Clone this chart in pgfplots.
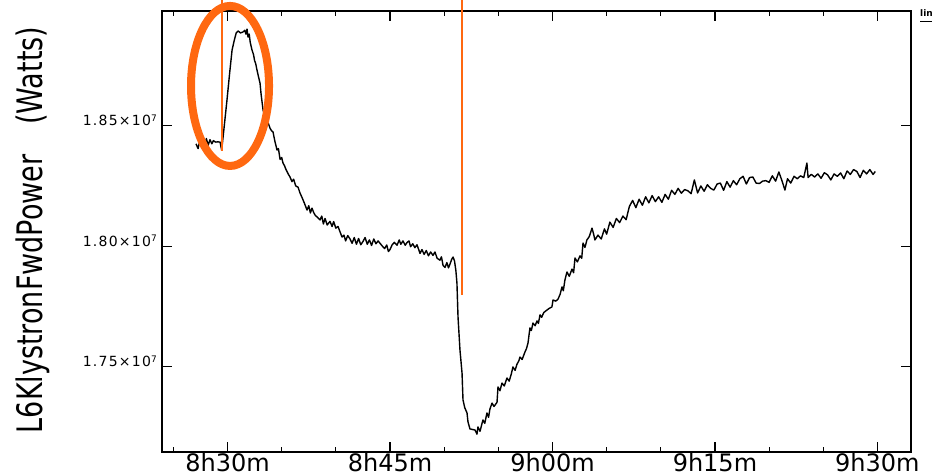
\documentclass[border=0pt]{standalone}
\usepackage{fontspec}
\setmainfont{DejaVu Sans}
\newfontfamily\ytickfont[LetterSpace=9]{DejaVu Sans}
\usepackage{graphicx}
\usepackage{pgfplots}
\pgfplotsset{compat=1.18}
\definecolor{hilite}{RGB}{255,104,16}

\begin{document}
\begin{tikzpicture}
\useasboundingbox (-162pt,-23pt) rectangle (770pt,452pt);

\begin{axis}[
    at={(0pt,0pt)}, anchor=south west,
    scale only axis, width=749pt, height=441pt,
    xmin=23.95, xmax=93.1,
    ymin=1.7146, ymax=1.8976,
    xtick={30,45,60,75,90},
    xticklabels={8h30m,8h45m,9h00m,9h15m,9h30m},
    minor xtick={25,35,40,50,55,65,70,80,85},
    ytick={1.75,1.80,1.85},
    yticklabels={
        {1.75×10\raisebox{4.5pt}{\fontsize{9}{9}\selectfont 7}},
        {1.80×10\raisebox{4.5pt}{\fontsize{9}{9}\selectfont 7}},
        {1.85×10\raisebox{4.5pt}{\fontsize{9}{9}\selectfont 7}}},
    tick align=inside,
    major tick length=10pt,
    minor tick length=5pt,
    tick style={black, line width=1.2pt},
    axis line style={line width=1.3pt},
    xticklabel style={font=\fontsize{24}{24}\selectfont, inner sep=0pt, anchor=north, yshift=-1.5pt},
    yticklabel style={font=\ytickfont\fontsize{14}{14}\selectfont, inner sep=0pt, anchor=base east, xshift=-5pt},
    clip=false,
]

% power trace
\addplot[black, line width=1.4pt, line join=round] coordinates {
(27.09,1.8425)(27.28,1.8405)(27.45,1.8440)(27.6,1.8412)(27.74,1.8453)(27.9,1.8420)(28.05,1.8447)(28.2,1.8418)(28.38,1.8442)(28.55,1.8425)(28.7,1.8438)(28.9,1.8432)(29.1,1.8433)(29.31,1.8432)(29.46,1.8398)
(29.7,1.8500)(29.95,1.8607)(30.2,1.8720)(30.42,1.8814)(30.6,1.8850)(30.8,1.8885)(30.97,1.8893)(31.2,1.8885)(31.43,1.8889)(31.6,1.8896)(31.7,1.8880)(31.8,1.8901)(31.89,1.8868)(32.0,1.8880)(32.1,1.8845)(32.26,1.8814)(32.4,1.8795)(32.5,1.8770)(32.6,1.8758)(32.72,1.8731)(32.85,1.8705)(33.0,1.8677)(33.1,1.8630)(33.28,1.8565)(33.45,1.8540)(33.6,1.8505)(33.75,1.8512)(33.92,1.8490)(34.05,1.8480)(34.2,1.8474)(34.35,1.8440)(34.57,1.8399)(34.7,1.8405)(34.85,1.8360)(35.0,1.8368)(35.12,1.8345)(35.25,1.8335)(35.4,1.8318)(35.6,1.8300)(35.77,1.8287)(35.95,1.8268)(36.1,1.8278)(36.3,1.8250)(36.51,1.8245)(36.69,1.8221)(36.9,1.8200)(37.1,1.8178)(37.34,1.8150)(37.5,1.8168)(37.65,1.8138)(37.8,1.8158)(37.95,1.8140)(38.1,1.8128)(38.3,1.8120)(38.54,1.8109)(38.7,1.8125)(38.85,1.8092)(39.0,1.8115)(39.2,1.8088)(39.46,1.8103)(39.65,1.8082)(39.8,1.8102)(40.0,1.8075)(40.2,1.8082)(40.4,1.8058)(40.57,1.8038)(40.75,1.8046)(40.9,1.8022)(41.1,1.8044)(41.31,1.8030)(41.5,1.8012)(41.7,1.8036)(41.9,1.8008)(42.1,1.8032)(42.3,1.8006)(42.51,1.8020)(42.7,1.8036)(42.9,1.8008)(43.1,1.8026)(43.3,1.8003)(43.5,1.8030)(43.7,1.8010)(43.9,1.8022)(44.08,1.8012)(44.3,1.8000)(44.5,1.7990)(44.7,1.8005)(44.85,1.7978)(45.0,1.7986)(45.2,1.8006)(45.4,1.8016)(45.65,1.8004)(45.85,1.8026)(46.0,1.8008)(46.2,1.8022)(46.4,1.8004)(46.57,1.8015)(46.75,1.8022)(46.9,1.7998)(47.1,1.8010)(47.3,1.7994)(47.49,1.8006)(47.65,1.7986)(47.77,1.7970)(47.95,1.7986)(48.15,1.7966)(48.35,1.7982)(48.55,1.7960)(48.75,1.7976)(48.97,1.7962)(49.15,1.7976)(49.35,1.7950)(49.61,1.7942)(49.75,1.7956)(49.9,1.7920)(50.08,1.7912)(50.25,1.7932)(50.4,1.7910)(50.54,1.7926)(50.7,1.7946)(50.82,1.7955)(50.95,1.7940)(51.08,1.7900)(51.18,1.7847)(51.28,1.7706)(51.46,1.7569)(51.65,1.7474)(51.74,1.7362)(51.9,1.7330)(52.11,1.7308)(52.2,1.7271)(52.38,1.7242)
(52.85,1.7237)(53.03,1.7220)(53.12,1.7250)(53.31,1.7232)(53.58,1.7279)(53.75,1.7265)(53.95,1.7308)(54.1,1.7290)(54.23,1.7325)(54.42,1.7349)(54.6,1.7335)(54.88,1.7352)(54.97,1.7416)(55.15,1.7400)(55.34,1.7432)(55.55,1.7420)(55.8,1.7453)(56.0,1.7440)(56.2,1.7470)(56.35,1.7499)(56.55,1.7485)(56.72,1.7510)(56.9,1.7525)(57.0,1.7540)(57.2,1.7530)(57.46,1.7561)(57.6,1.7575)(57.74,1.7598)(57.92,1.7661)(58.05,1.7650)(58.2,1.7681)(58.4,1.7670)(58.57,1.7690)(58.7,1.7680)(58.85,1.7715)(59.0,1.7705)(59.2,1.7725)(59.49,1.7735)(59.7,1.7742)(59.95,1.7748)(60.05,1.7777)(60.3,1.7772)(60.51,1.7780)(60.7,1.7800)(60.88,1.7831)(61.0,1.7815)(61.15,1.7860)(61.34,1.7893)(61.55,1.7875)(61.8,1.7905)(61.95,1.7890)(62.08,1.7951)(62.3,1.7935)(62.54,1.7960)(62.7,1.7950)(62.82,1.8013)(63.0,1.7995)(63.18,1.8026)(63.4,1.8040)(63.65,1.8075)(63.8,1.8050)(63.92,1.8026)
(64.2,1.8046)(64.5,1.8030)(64.8,1.8072)(65.0,1.8050)(65.3,1.8100)(65.6,1.8078)(65.9,1.8115)(66.2,1.8098)(66.5,1.8125)(66.8,1.8110)(67.1,1.8165)(67.4,1.8190)(67.7,1.8160)(68.0,1.8195)(68.3,1.8170)(68.6,1.8205)(68.9,1.8180)(69.2,1.8210)(69.5,1.8185)(69.8,1.8205)(70.1,1.8182)(70.4,1.8215)(70.7,1.8195)(71.0,1.8232)(71.3,1.8215)(71.6,1.8240)(71.9,1.8220)(72.2,1.8235)(72.5,1.8230)(72.8,1.8218)(73.1,1.8275)(73.4,1.8221)(73.7,1.8250)(74.0,1.8228)(74.3,1.8255)(74.6,1.8240)(74.9,1.8233)(75.2,1.8258)(75.5,1.8262)(75.8,1.8232)(76.1,1.8268)(76.4,1.8245)(76.7,1.8272)(77.0,1.8255)(77.3,1.8280)(77.6,1.8290)(77.9,1.8258)(78.2,1.8285)(78.5,1.8287)(78.8,1.8262)(79.1,1.8260)(79.4,1.8270)(79.7,1.8272)(80.0,1.8265)(80.3,1.8292)(80.6,1.8270)(80.9,1.8308)(81.2,1.8270)(81.46,1.8233)(81.7,1.8280)(82.0,1.8262)(82.3,1.8290)(82.6,1.8280)(82.9,1.8292)(83.2,1.8285)(83.49,1.8345)(83.6,1.8285)(83.9,1.8298)(84.2,1.8287)(84.5,1.8300)(84.8,1.8282)(85.1,1.8305)(85.4,1.8296)(85.7,1.8275)(86.0,1.8300)(86.3,1.8290)(86.6,1.8304)(86.9,1.8280)(87.2,1.8312)(87.5,1.8298)(87.8,1.8318)(88.1,1.8310)(88.4,1.8285)(88.7,1.8315)(89.0,1.8300)(89.3,1.8318)(89.6,1.8298)(89.8,1.8310)
};

% orange markup drawn on the scan
\draw[hilite, line width=2pt] (axis cs:29.46,1.8396) -- (axis cs:29.46,1.91);
\draw[hilite, line width=2.5pt] (axis cs:51.65,1.7797) -- (axis cs:51.65,1.91);
\draw[hilite, line width=8pt] (axis cs:30.23,1.8665) ellipse [x radius=39pt, y radius=80pt];
\end{axis}

\node[rotate=90] at (-129pt,222pt)
    {\scalebox{1}[1.3]{\fontsize{27}{27}\selectfont L6KlystronFwdPower\hspace{30pt}(Watts)}};
\node[anchor=base west, inner sep=0pt, font=\bfseries\fontsize{9}{9}\selectfont] at (758pt,435pt) {line};
\draw[line width=0.8pt] (758pt,431pt) -- (772pt,431pt);
\end{tikzpicture}
\end{document}
